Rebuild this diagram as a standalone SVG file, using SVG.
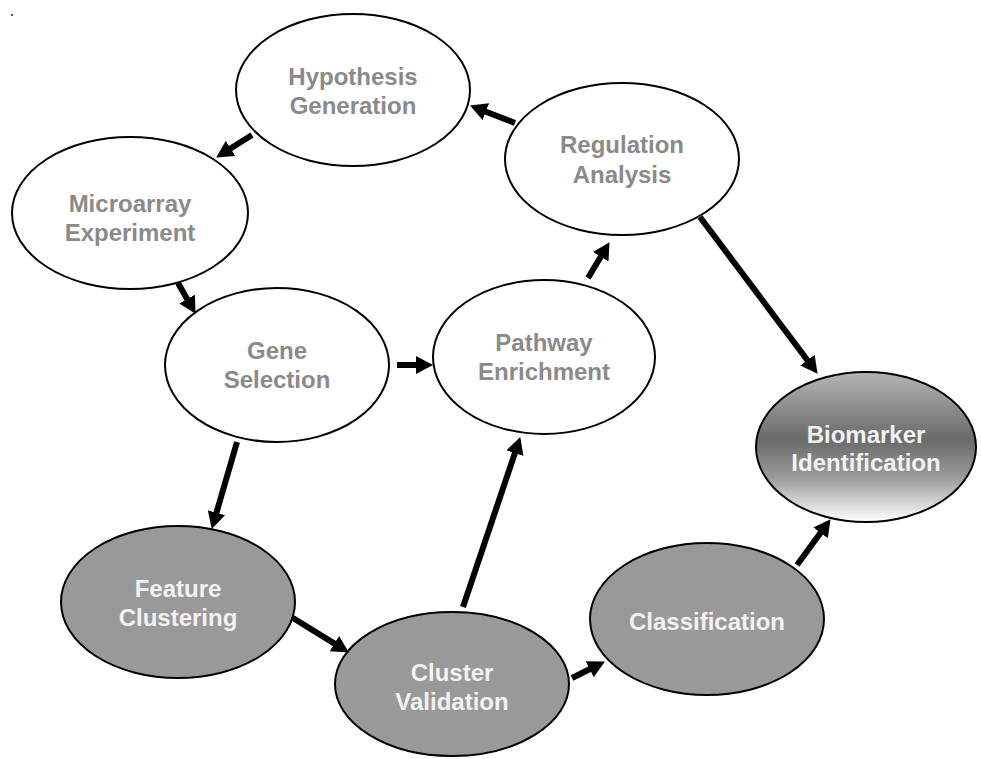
<svg xmlns="http://www.w3.org/2000/svg" width="981" height="759" viewBox="0 0 981 759">
<defs>
<marker id="ah" markerUnits="userSpaceOnUse" markerWidth="18" markerHeight="18" refX="2" refY="9" orient="auto">
<path d="M0,0 L17,9 L0,18 Z" fill="#000"/>
</marker>
<linearGradient id="bio" x1="0" y1="0" x2="0" y2="1">
<stop offset="0" stop-color="#b5b5b5"/>
<stop offset="0.45" stop-color="#6a6a6a"/>
<stop offset="0.7" stop-color="#9a9a9a"/>
<stop offset="1" stop-color="#ffffff"/>
</linearGradient>
</defs>
<style>
.w{fill:#fff;stroke:#000;stroke-width:2}
.g{fill:#999;stroke:#000;stroke-width:2}
.b{fill:url(#bio);stroke:#000;stroke-width:2}
text{font-family:"Liberation Sans",Arial,sans-serif;font-weight:bold;font-size:24px;text-anchor:middle}
.tw{fill:#8a8a8a}
.tg{fill:#f2f2f2}
.c line{stroke:#000;stroke-width:6;marker-end:url(#ah)}
</style>
<rect width="981" height="759" fill="#fff"/>
<rect x="11" y="14" width="2" height="2" fill="#555"/>
<g id="hypothesis"><ellipse class="w" cx="353" cy="90" rx="117" ry="76"/><text class="tw" x="353" y="85">Hypothesis</text><text class="tw" x="353" y="114">Generation</text></g>
<g id="microarray"><ellipse class="w" cx="130" cy="213" rx="118" ry="76"/><text class="tw" x="130" y="212">Microarray</text><text class="tw" x="130" y="241">Experiment</text></g>
<g id="regulation"><ellipse class="w" cx="622" cy="159" rx="117" ry="76"/><text class="tw" x="622" y="153">Regulation</text><text class="tw" x="622" y="183">Analysis</text></g>
<g id="gene"><ellipse class="w" cx="277" cy="365" rx="112" ry="77"/><text class="tw" x="277" y="359">Gene</text><text class="tw" x="277" y="388">Selection</text></g>
<g id="pathway"><ellipse class="w" cx="544" cy="357" rx="111" ry="77"/><text class="tw" x="544" y="351">Pathway</text><text class="tw" x="544" y="380">Enrichment</text></g>
<g id="biomarker"><ellipse class="b" cx="866" cy="447" rx="110" ry="75"/><text class="tg" x="866" y="443">Biomarker</text><text class="tg" x="866" y="471">Identification</text></g>
<g id="feature"><ellipse class="g" cx="178" cy="602" rx="117" ry="76"/><text class="tg" x="178" y="597">Feature</text><text class="tg" x="178" y="626">Clustering</text></g>
<g id="cluster"><ellipse class="g" cx="452" cy="684" rx="117" ry="72"/><text class="tg" x="452" y="681">Cluster</text><text class="tg" x="452" y="710">Validation</text></g>
<g id="classification"><ellipse class="g" cx="707" cy="619" rx="117" ry="76"/><text class="tg" x="707" y="630">Classification</text></g>
<g id="connectors" class="c">
<line x1="252" y1="135" x2="228.9" y2="149.5"/>
<line x1="515" y1="123" x2="484" y2="111"/>
<line x1="178" y1="283" x2="188.1" y2="300.8"/>
<line x1="397" y1="365" x2="418" y2="365"/>
<line x1="588" y1="278" x2="601.8" y2="255"/>
<line x1="700" y1="217" x2="808.6" y2="361.8"/>
<line x1="237" y1="442" x2="215.9" y2="514.6"/>
<line x1="463" y1="607" x2="515.5" y2="451.3"/>
<line x1="293" y1="618" x2="336.1" y2="644.6"/>
<line x1="572" y1="678" x2="591.5" y2="668.3"/>
<line x1="797" y1="565" x2="821.7" y2="531.3"/>
</g>
</svg>
